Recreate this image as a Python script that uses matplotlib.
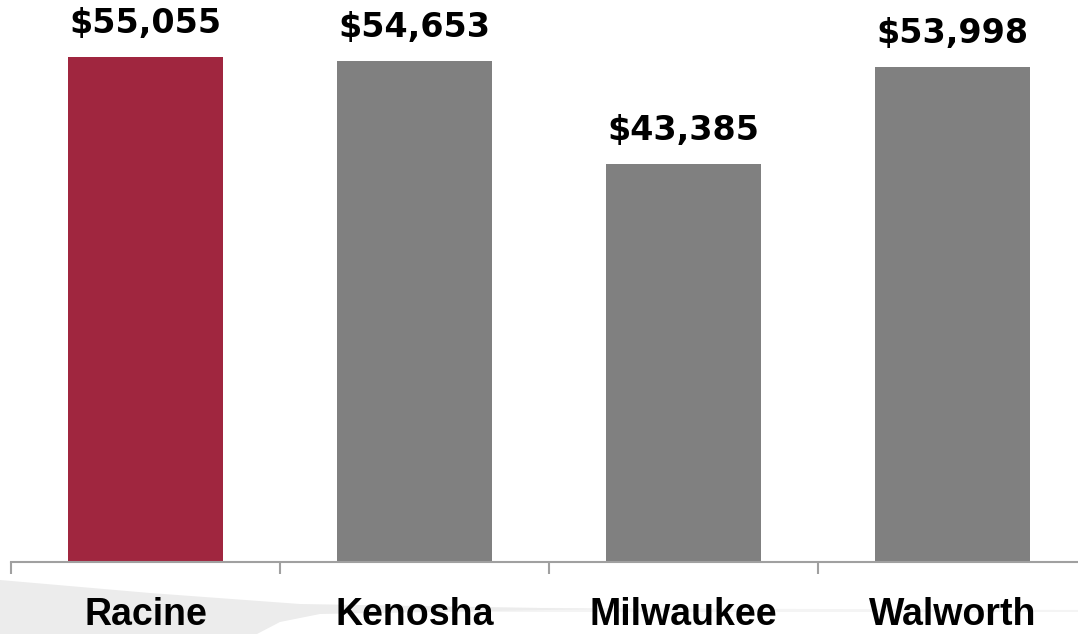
import matplotlib.pyplot as plt
from matplotlib.patches import Polygon

counties = ["Racine", "Kenosha", "Milwaukee", "Walworth"]
income = [55055, 54653, 43385, 53998]
colors = ["#A0263F", "#808080", "#808080", "#808080"]

fig = plt.figure(figsize=(10.78, 6.34), dpi=100)


def fig_xy(px, py):
    # pixel coords (top-left origin) -> figure fraction
    return (px / 1078, 1 - py / 634)


# light swoosh decoration bottom-left (slide background)
swoosh = Polygon(
    [fig_xy(0, 580), fig_xy(150, 593), fig_xy(300, 604), fig_xy(600, 609),
     fig_xy(320, 614), fig_xy(280, 622), fig_xy(257, 634), fig_xy(0, 634)],
    closed=True, transform=fig.transFigure, facecolor="#ececec",
    edgecolor="none", zorder=-2)
band = Polygon(
    [fig_xy(300, 607), fig_xy(1078, 610), fig_xy(1078, 612), fig_xy(300, 612)],
    closed=True, transform=fig.transFigure, facecolor="#f4f4f4",
    edgecolor="none", zorder=-2)
fig.patches.extend([band, swoosh])

ax = fig.add_axes([11 / 1078, 72 / 634, 1076 / 1078, 562 / 634])
ax.patch.set_alpha(0)
x = range(len(counties))
ax.bar(x, income, width=0.576, color=colors, zorder=2)

for i, v in enumerate(income):
    ax.annotate(f"${v:,}", (i, v), xytext=(0, 17.3), textcoords="offset points",
                ha="center", va="baseline", fontsize=24, fontweight="bold",
                family="DejaVu Sans", color="black")

ax.set_xlim(-0.5, 3.5)
ax.set_ylim(0, 61270)
ax.set_yticks([])
for s in ["top", "right", "left"]:
    ax.spines[s].set_visible(False)
ax.spines["bottom"].set_color("#a0a0a0")
ax.spines["bottom"].set_linewidth(1.5)

ax.set_xticks([-0.5, 0.5, 1.5, 2.5, 3.5])
ax.set_xticklabels([])
ax.tick_params(axis="x", which="major", length=8.6, width=1.5, color="#a0a0a0")
ax.set_xticks(list(x), minor=True)
ax.set_xticklabels(counties, minor=True, fontsize=27, fontweight="bold",
                   family="Liberation Sans")
ax.tick_params(axis="x", which="minor", length=0, pad=25)

fig.savefig("out.png", dpi=100)
